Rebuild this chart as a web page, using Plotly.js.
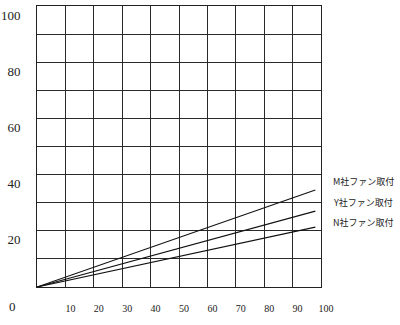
<!DOCTYPE html>
<html>
<head>
<meta charset="utf-8">
<script src="https://cdn.plot.ly/plotly-3.0.1.min.js"></script>
<style>html,body{margin:0;padding:0;background:#fff;}#chart{width:400px;height:325px;}</style>
</head>
<body>
<div id="chart"></div>
<script>
const xValues = [0, 98];
const seriesNames = ["M社ファン取付", "Y社ファン取付", "N社ファン取付"];
const mValues = [0, 34.5];
const yValues = [0, 27];
const nValues = [0, 21.3];
const xTickVals = [10, 20, 30, 40, 50, 60, 70, 80, 90, 100];
const xTickText = ["10", "20", "30", "40", "50", "60", "70", "80", "90", "100"];
const yTickVals = [10, 20, 30, 40, 50, 60, 70, 80, 90, 100];
const yTickText = ["", "20", "", "40", "", "60", "", "80", "", "100"];

const seriesData = [mValues, yValues, nValues];
const traces = seriesData.map((vals, i) => ({
  x: xValues, y: vals, type: 'scatter', mode: 'lines',
  name: seriesNames[i], line: {color: '#111', width: 1.1}, hoverinfo: 'skip'
}));

const labelY = [0.374, 0.299, 0.231];
const annotations = seriesNames.map((t, i) => ({
  text: t, xref: 'paper', yref: 'paper', x: 1.036, y: labelY[i],
  xanchor: 'left', yanchor: 'middle', showarrow: false,
  font: {family: 'Noto Sans CJK JP', size: 9, color: '#222'}
}));
annotations.push({
  text: '0', xref: 'paper', yref: 'paper', x: -0.088, y: -0.071,
  xanchor: 'center', yanchor: 'middle', showarrow: false,
  font: {family: 'Liberation Serif', size: 13, color: '#222'}
});

const layout = {
  width: 400, height: 325,
  margin: {l: 37, r: 79, t: 6, b: 38, pad: 0},
  paper_bgcolor: '#fff', plot_bgcolor: '#fff',
  showlegend: false,
  xaxis: {
    range: [0, 100],
    tickmode: 'array', tickvals: xTickVals, ticktext: xTickText,
    showgrid: true, gridcolor: '#2a2a2a', gridwidth: 1,
    zeroline: false, showline: true, linecolor: '#222', linewidth: 1, mirror: true,
    ticks: '', ticklabelstandoff: 12, ticklabelshift: 5,
    tickfont: {family: 'Liberation Serif', size: 10, color: '#222'}
  },
  yaxis: {
    range: [0, 100],
    tickmode: 'array', tickvals: yTickVals, ticktext: yTickText,
    showgrid: true, gridcolor: '#2a2a2a', gridwidth: 1,
    zeroline: false, showline: true, linecolor: '#222', linewidth: 1, mirror: true,
    ticks: '', ticklabelstandoff: 13, ticklabelshift: 9,
    tickfont: {family: 'Liberation Serif', size: 13, color: '#222'}
  },
  annotations: annotations
};

Plotly.newPlot('chart', traces, layout, {staticPlot: true, displayModeBar: false});
</script>
</body>
</html>
